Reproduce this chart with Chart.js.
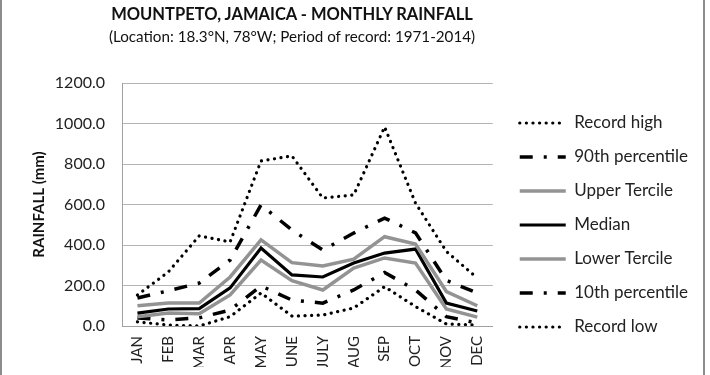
<!DOCTYPE html>
<html>
<head>
<meta charset="utf-8">
<title>Mountpeto monthly rainfall</title>
<script src="https://cdn.jsdelivr.net/npm/chart.js@4.4.0/dist/chart.umd.min.js"></script>
<style>
    html, body { margin: 0; padding: 0; background: #fff; }
    #wrap { position: relative; width: 710px; height: 375px; font-family: Lato, "Open Sans", sans-serif; }
    #frame { position: absolute; left: 0; top: 0; width: 701px; height: 375px;
             border-left: 2px solid #8c8c8c; border-right: 2px solid #8c8c8c; pointer-events: none; }
    .ttl { position: absolute; left: 0; width: 584px; text-align: center; color: #111; white-space: nowrap; }
    #t1 { top: 4px; font-size: 16.5px; font-weight: bold; }
    #t2 { top: 27px; font-size: 15.2px; }
</style>
</head>
<body>
<div id="wrap">
    <canvas id="rainChart" width="710" height="375"></canvas>
    <div class="ttl" id="t1">MOUNTPETO, JAMAICA - MONTHLY RAINFALL</div>
    <div class="ttl" id="t2">(Location: 18.3°N, 78°W; Period of record: 1971-2014)</div>
    <div id="frame"></div>
</div>
<script>
// valeurs (mm)
const months = ['JAN', 'FEB', 'MAR', 'APR', 'MAY', 'JUNE', 'JULY', 'AUG', 'SEP', 'OCT', 'NOV', 'DEC'];
const recordHigh   = [153, 267, 445, 415, 815, 840, 632, 647, 983, 607, 368, 237];
const pct90        = [138, 174, 212, 326, 598, 474, 375, 459, 533, 460, 225, 163];
const upperTercile = [100, 113, 113, 242, 425, 313, 296, 330, 441, 405, 170, 100];
const median       = [64, 84, 86, 188, 385, 252, 242, 311, 360, 380, 113, 74];
const lowerTercile = [46, 64, 60, 153, 326, 224, 178, 286, 336, 311, 84, 44];
const pct10        = [40, 30, 40, 79, 198, 128, 113, 178, 264, 178, 46, 15];
const recordLow    = [20, 5, 0, 46, 163, 49, 54, 89, 194, 96, 10, 5];
const yTicks = [0, 200, 400, 600, 800, 1000, 1200];

const DOTS = [0.1, 6.5];
const DASHDOT = [13, 11, 3, 11];
const GREY = '#939393';

function serie(label, data, color, width, dash) {
    return {
        label: label,
        data: data,
        borderColor: color,
        backgroundColor: color,
        borderWidth: width,
        borderDash: dash,
        borderCapStyle: dash.length === 2 ? 'round' : 'butt',
        pointRadius: 0,
        tension: 0,
        fill: false
    };
}

const ctx = document.getElementById('rainChart').getContext('2d');
const chart = new Chart(ctx, {
    type: 'line',
    data: {
        labels: months,
        datasets: [
            serie('Record high', recordHigh, '#000', 3.2, DOTS),
            serie('90th percentile', pct90, '#000', 3.5, DASHDOT),
            serie('Upper Tercile', upperTercile, GREY, 3.5, []),
            serie('Median', median, '#000', 3.2, []),
            serie('Lower Tercile', lowerTercile, GREY, 3.5, []),
            serie('10th percentile', pct10, '#000', 3.5, DASHDOT),
            serie('Record low', recordLow, '#000', 3.2, DOTS)
        ]
    },
    options: {
        responsive: false,
        animation: false,
        layout: { padding: { top: 83, bottom: 8, left: 0, right: 12 } },
        plugins: {
            title: { display: false },
            tooltip: { enabled: false },
            legend: {
                position: 'right',
                align: 'center',
                maxWidth: 300,
                labels: {
                    usePointStyle: true,
                    pointStyle: 'line',
                    pointStyleWidth: 46,
                    padding: 17,
                    color: '#222',
                    font: { family: 'Lato', size: 17 },
                    // le style "point" par défaut perd les tirets, on les remet
                    generateLabels: (ch) => ch.data.datasets.map((ds, i) => ({
                        text: ds.label,
                        datasetIndex: i,
                        fillStyle: ds.borderColor,
                        strokeStyle: ds.borderColor,
                        lineWidth: ds.borderWidth,
                        lineDash: ds.borderDash,
                        lineCap: ds.borderCapStyle,
                        pointStyle: 'line',
                        fontColor: '#222',
                        hidden: false
                    }))
                }
            }
        },
        scales: {
            x: {
                offset: true,
                grid: { display: false, drawTicks: false },
                border: { color: '#a0a0a0', width: 1 },
                ticks: {
                    minRotation: 90,
                    maxRotation: 90,
                    padding: 10,
                    color: '#222',
                    font: { family: 'Lato', size: 15 }
                },
                afterFit: (s) => { s.height = 41; }
            },
            y: {
                min: 0,
                max: 1200,
                afterBuildTicks: (s) => { s.ticks = yTicks.map(v => ({ value: v })); },
                grid: { color: '#b4b4b4', drawTicks: false },
                border: { color: '#a0a0a0' },
                ticks: {
                    padding: 17,
                    color: '#222',
                    font: { family: 'Lato', size: 16 },
                    callback: (v) => v.toFixed(1)
                },
                title: {
                    display: true,
                    text: 'RAINFALL (mm)',
                    color: '#111',
                    padding: { top: 30, bottom: 0 },
                    font: { family: 'Lato', size: 15, weight: 'bold' }
                },
                afterFit: (s) => { s.width = 122; }
            },
            // petit espace entre la zone de tracé et la légende
            gap: {
                position: 'right',
                display: true,
                grid: { display: false },
                border: { display: false },
                ticks: { display: false },
                afterFit: (s) => { s.width = 10; }
            }
        }
    }
});
</script>
</body>
</html>
